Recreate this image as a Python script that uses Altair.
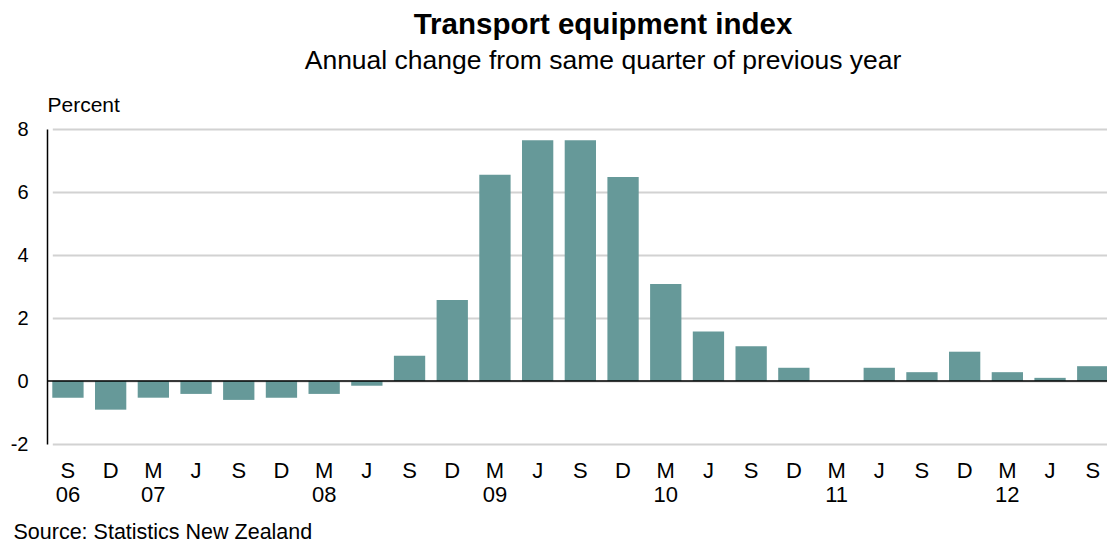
import altair as alt
import pandas as pd

quarters = ["S", "D", "M", "J", "S", "D", "M", "J", "S", "D", "M", "J", "S",
            "D", "M", "J", "S", "D", "M", "J", "S", "D", "M", "J", "S"]
years = ["06", "", "07", "", "", "", "08", "", "", "", "09", "", "",
         "", "10", "", "", "", "11", "", "", "", "12", "", ""]
values = [-0.53, -0.91, -0.53, -0.41, -0.6, -0.53, -0.41, -0.15, 0.8, 2.57,
          6.55, 7.64, 7.64, 6.48, 3.08, 1.57, 1.1, 0.42, 0.0, 0.42,
          0.28, 0.93, 0.28, 0.1, 0.47]
y_ticks = [-2, 0, 2, 4, 6, 8]

keys = [f"{q}|{y}|{i}" for i, (q, y) in enumerate(zip(quarters, years))]
df = pd.DataFrame({"key": keys, "value": values})

FONT = "Liberation Sans"

bars = alt.Chart(df).mark_bar(color="#669999").encode(
    x=alt.X(
        "key:N",
        sort=keys,
        scale=alt.Scale(range=[5.3, 1061.4], paddingInner=0.267, paddingOuter=0),
        axis=alt.Axis(
            title="Source: Statistics New Zealand",
            titleAnchor="start",
            titleAlign="left",
            titleBaseline="alphabetic",
            titleX=-34,
            titleY=94,
            titleFont=FONT,
            titleFontSize=21.5,
            titleFontWeight="normal",
            titleColor="#000000",
            labelExpr="[split(datum.value, '|')[0], split(datum.value, '|')[1]]",
            labelAngle=0,
            labelFont=FONT,
            labelFontSize=22,
            labelColor="#000000",
            labelLineHeight=24,
            labelPadding=16,
            domain=False,
            ticks=False,
            grid=False,
        ),
    ),
    y=alt.Y(
        "value:Q",
        scale=alt.Scale(domain=[-2, 8], nice=False, zero=False),
        axis=alt.Axis(
            values=y_ticks,
            labelExpr="'' + datum.value",
            title="Percent",
            titleAngle=0,
            titleAlign="left",
            titleBaseline="alphabetic",
            titleX=0,
            titleY=-18,
            titleFont=FONT,
            titleFontSize=21,
            titleFontWeight="normal",
            titleColor="#000000",
            labelFont=FONT,
            labelFontSize=20,
            labelColor="#000000",
            labelPadding=19,
            domain=True,
            domainColor="#000000",
            domainWidth=1.5,
            ticks=False,
            grid=True,
            gridColor="#d2d2d2",
            gridWidth=1.8,
        ),
    ),
)

zero = alt.Chart(pd.DataFrame({"y": [0]})).mark_rule(
    color="#000000", strokeWidth=1.5
).encode(y=alt.Y("y:Q"))

chart = alt.layer(bars, zero).properties(
    width=1060,
    height=315,
    title=alt.TitleParams(
        text="Transport equipment index",
        subtitle="Annual change from same quarter of previous  year",
        anchor="middle",
        dx=26,
        offset=19,
        font=FONT,
        fontSize=29.5,
        fontWeight="bold",
        color="#000000",
        subtitleFont=FONT,
        subtitleFontSize=26.5,
        subtitleColor="#000000",
        subtitlePadding=7,
    ),
    padding={"left": 39, "top": 121, "right": 0, "bottom": 98},
    autosize=alt.AutoSizeParams(type="none"),
).configure_view(stroke=None)

chart.save("out.html", embed_options={"renderer": "svg", "actions": False})
